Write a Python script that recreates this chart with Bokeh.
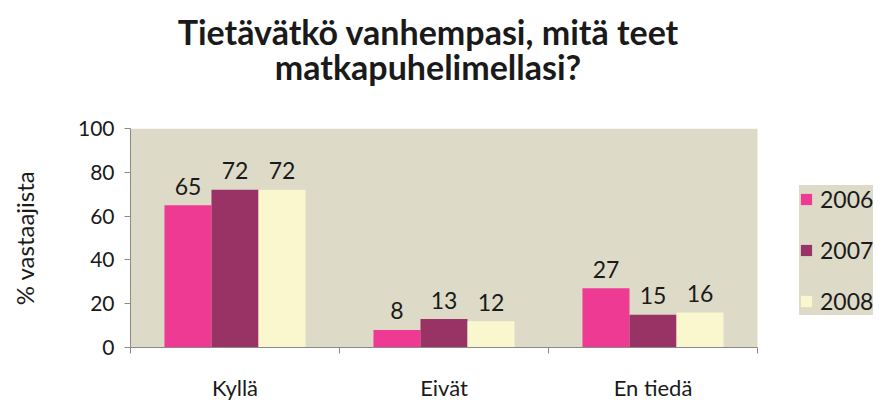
from bokeh.plotting import figure
from bokeh.models import Range1d, FixedTicker, Legend, LegendItem, ColumnDataSource, Div
from bokeh.layouts import column
from bokeh.core.properties import value
from bokeh.embed import file_html
from bokeh.resources import INLINE

title_lines = ["Tietävätkö vanhempasi, mitä teet", "matkapuhelimellasi?"]
categories = ["Kyllä", "Eivät", "En tiedä"]
years = ["2006", "2007", "2008"]
v2006 = [65, 8, 27]
v2007 = [72, 13, 15]
v2008 = [72, 12, 16]
colors = ["#EE3A93", "#993366", "#FAF7CF"]
yticks = [0, 20, 40, 60, 80, 100]

FONT = "Lato"
BG = "#DDDAC7"
W, H = 883, 403
TITLE_H = 100
LEFT, TOP, BOTTOM = 130, 28, 54
PLOT_W = 627  # width of the shaded plot area in px
n = len(categories)
x_end = n * (W - LEFT) / PLOT_W

# title block, centred a little left of the shaded plot area's centre
title = Div(text="<br>".join(title_lines), width=856,
            height=TITLE_H, margin=(0, 0, 0, 0),
            styles={"text-align": "center", "font-family": FONT, "font-weight": "bold",
                    "font-size": "34px", "line-height": "35px", "color": "#1a1a1a",
                    "padding-top": "14px", "box-sizing": "border-box"})

p = figure(width=W, height=H - TITLE_H, output_backend="svg", toolbar_location=None,
           x_range=Range1d(0, x_end), y_range=Range1d(0, yticks[-1]),
           min_border_left=LEFT, min_border_right=0, min_border_top=TOP, min_border_bottom=BOTTOM)
p.background_fill_color = "white"
p.border_fill_color = "white"
p.outline_line_color = None
p.grid.visible = False

# shaded plot area
p.quad(left=[0], right=[n], bottom=[0], top=[yticks[-1]], fill_color=BG, line_color=None)

bar_w = 0.225
series = [v2006, v2007, v2008]
offsets = [-bar_w, 0, bar_w]
renderers = []
for vals, col, off in zip(series, colors, offsets):
    xs = [i + 0.5 + off for i in range(n)]
    src = ColumnDataSource(dict(x=xs, top=vals, lab=[str(v) for v in vals]))
    r = p.vbar(x="x", top="top", width=bar_w, bottom=0, source=src,
               fill_color=col, line_color=None)
    renderers.append(r)
    p.text(x="x", y="top", text="lab", source=src, text_align="center",
           text_baseline="alphabetic", y_offset=-19, text_font=value(FONT),
           text_font_size="23px", text_color="#1a1a1a")

# y axis
ya = p.yaxis[0]
ya.ticker = FixedTicker(ticks=yticks)
ya.axis_line_color = "#8a8a8a"
ya.major_tick_line_color = "#8a8a8a"
ya.major_tick_out = 6
ya.major_tick_in = 0
ya.minor_tick_line_color = None
ya.major_label_text_font = FONT
ya.major_label_text_font_size = "21px"
ya.major_label_text_color = "#1a1a1a"
ya.major_label_standoff = 10
ya.axis_label = "% vastaajista"
ya.axis_label_text_font = FONT
ya.axis_label_text_font_size = "24px"
ya.axis_label_text_font_style = "normal"
ya.axis_label_text_color = "#1a1a1a"
ya.axis_label_standoff = 36

# x axis: labels at centres, ticks at category boundaries
xa = p.xaxis[0]
xa.bounds = (0, n)
xa.ticker = FixedTicker(ticks=[i + 0.5 for i in range(n)],
                        minor_ticks=list(range(n + 1)))
xa.major_label_overrides = {i + 0.5: c for i, c in enumerate(categories)}
xa.axis_line_color = "#8a8a8a"
xa.major_tick_line_color = None
xa.minor_tick_line_color = "#8a8a8a"
xa.minor_tick_out = 6
xa.minor_tick_in = 0
xa.major_label_text_font = FONT
xa.major_label_text_font_size = "22px"
xa.major_label_text_color = "#1a1a1a"
xa.major_label_standoff = 20

legend = Legend(items=[LegendItem(label=y, renderers=[r]) for y, r in zip(years, renderers)],
                location=(669, 32), orientation="vertical",
                background_fill_color=BG, background_fill_alpha=1.0,
                border_line_color=None, glyph_width=14, glyph_height=14,
                label_text_font=FONT, label_text_font_size="23px", label_text_color="#1a1a1a",
                label_height=20, spacing=23, padding=14, margin=0, label_standoff=7)
p.add_layout(legend, "center")

layout = column(title, p, spacing=0)
open("out.html", "w").write(file_html(layout, INLINE))
